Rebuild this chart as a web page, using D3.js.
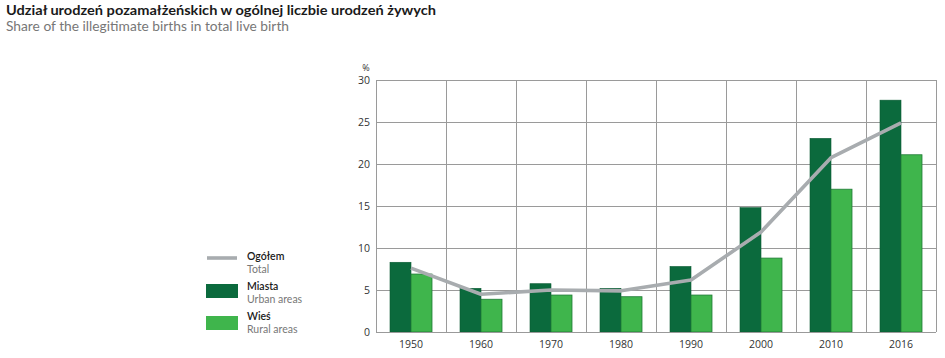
<!DOCTYPE html>
<html>
<head>
<meta charset="utf-8">
<script src="https://cdn.jsdelivr.net/npm/d3@7/dist/d3.min.js"></script>
<style>
body{margin:0;background:#fff;}
svg{display:block;font-family:"Open Sans","Noto Sans",sans-serif;}
</style>
</head>
<body>
<svg id="chart" width="945" height="358"></svg>
<script>
const categories = ["1950","1960","1970","1980","1990","2000","2010","2016"];
const urban = [8.3, 5.2, 5.75, 5.2, 7.8, 14.8, 23.05, 27.6];
const rural = [6.9, 3.9, 4.4, 4.2, 4.4, 8.8, 17.0, 21.1];
const total = [7.6, 4.5, 5.0, 4.9, 6.2, 11.9, 20.75, 24.9];
const yTicks = [0,5,10,15,20,25,30];

(function(){
const svg = d3.select("#chart");
const pLeft = 376, pRight = 936, pTop = 80, pBottom = 332;
const txtFont = "Lato, 'Open Sans', sans-serif";

const x = d3.scaleBand().domain(categories).range([pLeft, pRight]).paddingInner(0).paddingOuter(0);
const inner = d3.scaleBand().domain(["u","r"]).range([0, x.bandwidth()]).paddingInner(0).paddingOuter(14/21);
const y = d3.scaleLinear().domain([0,30]).range([pBottom, pTop]);

const gridColor = "#9a9a9a";

svg.append("g").selectAll("line").data(yTicks).join("line")
  .attr("x1", pLeft).attr("x2", pRight)
  .attr("y1", d=>y(d)+0.5).attr("y2", d=>y(d)+0.5)
  .attr("stroke", gridColor).attr("stroke-width", 1);
const bounds = categories.map(c=>x(c)).concat([pRight]);
svg.append("g").selectAll("line").data(bounds).join("line")
  .attr("x1", d=>d+0.5).attr("x2", d=>d+0.5)
  .attr("y1", pTop).attr("y2", pBottom)
  .attr("stroke", gridColor).attr("stroke-width", 1);

const g = svg.append("g");
categories.forEach((c,i)=>{
  g.append("rect")
    .attr("x", x(c)+inner("u")).attr("width", inner.bandwidth())
    .attr("y", y(urban[i])).attr("height", y(0)-y(urban[i]))
    .attr("fill", "#0b6a3d").attr("stroke","#0a5a33").attr("stroke-width",0.6);
  g.append("rect")
    .attr("x", x(c)+inner("r")).attr("width", inner.bandwidth())
    .attr("y", y(rural[i])).attr("height", y(0)-y(rural[i]))
    .attr("fill", "#3fb54c").attr("stroke","#1f7a36").attr("stroke-width",0.8);
});

svg.append("line").attr("x1", pLeft).attr("x2", pRight).attr("y1", pBottom+0.5).attr("y2", pBottom+0.5)
  .attr("stroke", gridColor).attr("stroke-width", 1);

const line = d3.line().x((d,i)=>x(categories[i])+x.bandwidth()/2).y(d=>y(d));
svg.append("path").datum(total).attr("d", line)
  .attr("fill","none").attr("stroke","#a8acaf").attr("stroke-width",3.6)
  .attr("stroke-linejoin","round");

const yAxis = d3.axisLeft(y).tickValues(yTicks).tickSize(0).tickPadding(6).tickFormat(d3.format("d"));
const ya = svg.append("g").attr("transform", `translate(${pLeft},0)`).call(yAxis);
ya.select(".domain").remove();
ya.selectAll("text").attr("font-size", 10.5).attr("fill", "#333").attr("font-family","\"Open Sans\",sans-serif");
svg.append("text").attr("x", 366).attr("y", 71).attr("text-anchor","middle")
  .attr("font-size", 9).attr("fill","#333").text("%");

const xAxis = d3.axisBottom(x).tickSize(0).tickPadding(9);
const xa = svg.append("g").attr("transform", `translate(0,${pBottom})`).call(xAxis);
xa.select(".domain").remove();
xa.selectAll("text").attr("font-size", 10.5).attr("fill", "#333").attr("font-family","\"Open Sans\",sans-serif");

svg.append("text").attr("x", 6).attr("y", 14.5).attr("font-size", 14).attr("font-weight","bold")
  .attr("font-family", txtFont).attr("fill","#1a1a1a")
  .attr("textLength", 430).attr("lengthAdjust", "spacingAndGlyphs")
  .text("Udział urodzeń pozamałżeńskich w ogólnej liczbie urodzeń żywych");
svg.append("text").attr("x", 6).attr("y", 31).attr("font-size", 13.5)
  .attr("font-family", txtFont).attr("fill","#777")
  .attr("textLength", 283).attr("lengthAdjust", "spacingAndGlyphs")
  .text("Share of the illegitimate births in total live birth");

const lg = svg.append("g");
lg.append("line").attr("x1",207).attr("x2",237).attr("y1",258).attr("y2",258)
  .attr("stroke","#a8acaf").attr("stroke-width",3.6);
lg.append("rect").attr("x",206).attr("y",284).attr("width",32).attr("height",14).attr("fill","#0b6a3d");
lg.append("rect").attr("x",206).attr("y",316).attr("width",32).attr("height",14).attr("fill","#3fb54c");
const legItems = [["Ogółem","Total",260],["Miasta","Urban areas",290],["Wieś","Rural areas",320]];
legItems.forEach(([pl,en,yy])=>{
  lg.append("text").attr("x",247).attr("y",yy).attr("font-size",10.5).attr("font-weight",600)
    .attr("font-family", txtFont).attr("fill","#1a1a1a").text(pl);
  lg.append("text").attr("x",247).attr("y",yy+13).attr("font-size",10.5)
    .attr("font-family", txtFont).attr("fill","#777").text(en);
});
})();
</script>
</body>
</html>
